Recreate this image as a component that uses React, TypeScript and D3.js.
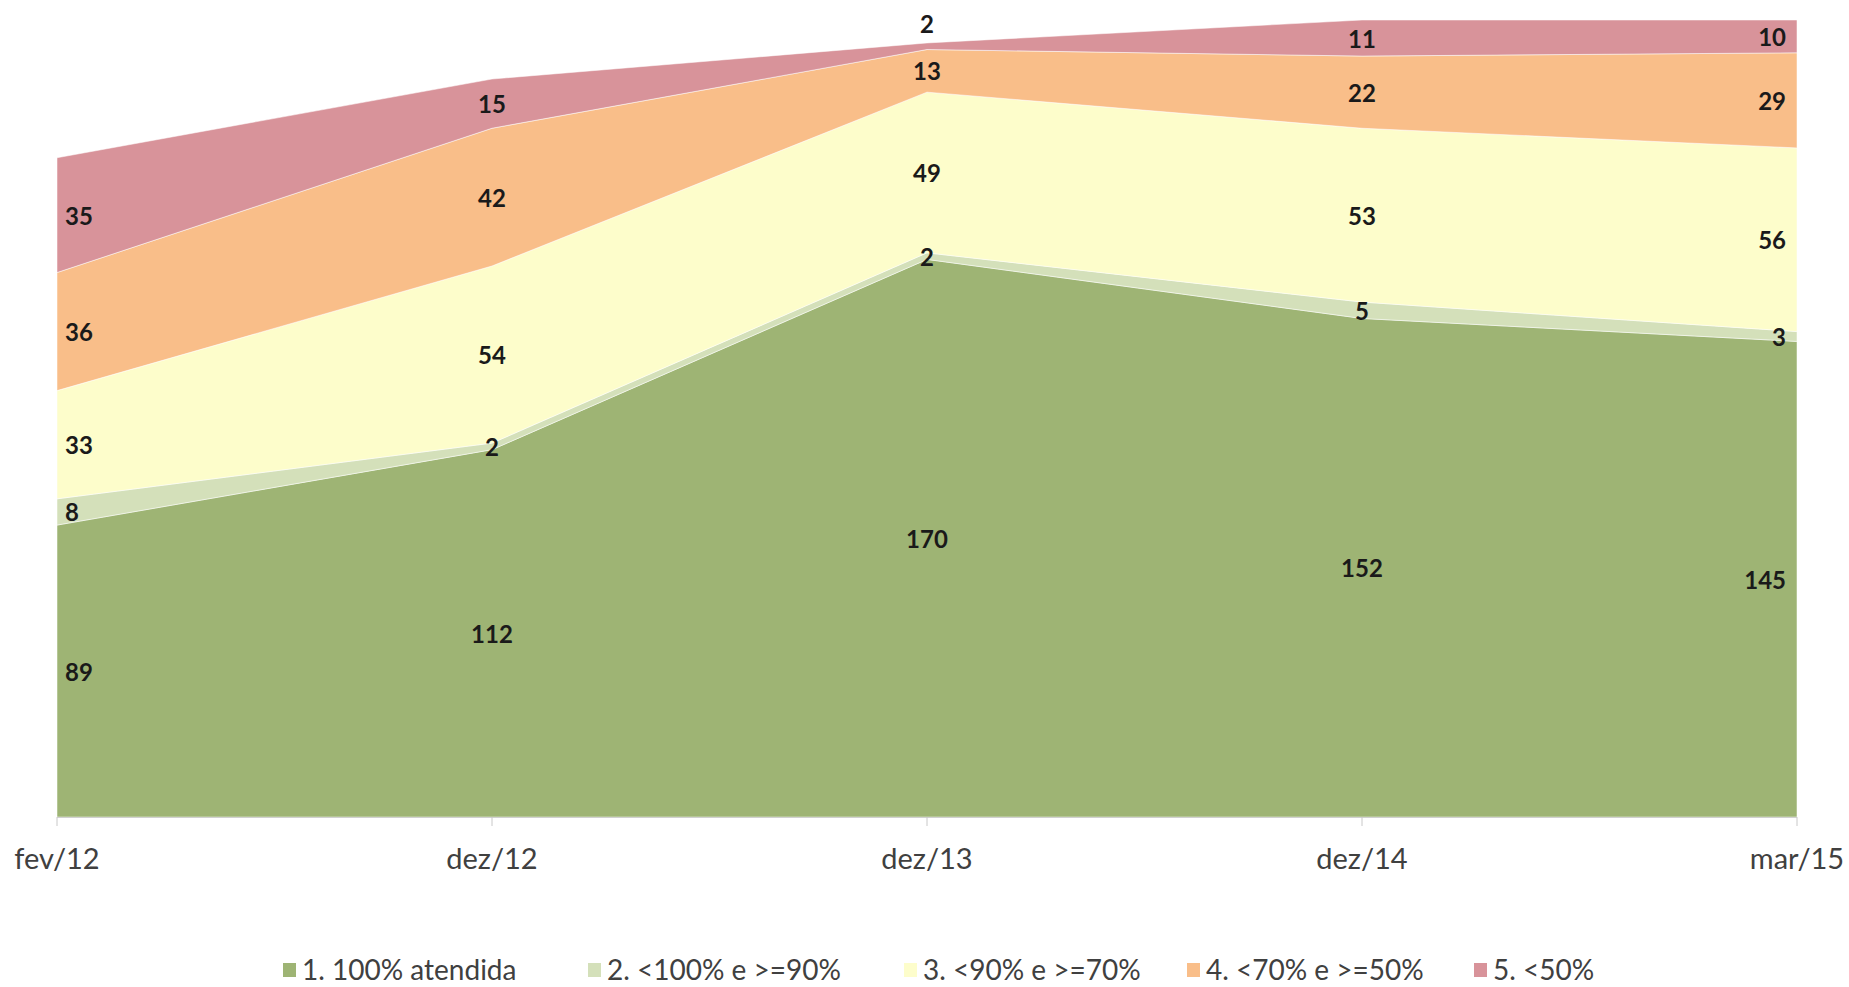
import React from "react";
import * as d3 from "d3";

const categories = ["fev/12", "dez/12", "dez/13", "dez/14", "mar/15"];
const seriesNames = [
  "1. 100% atendida",
  "2. <100% e >=90%",
  "3. <90% e >=70%",
  "4. <70% e >=50%",
  "5. <50%",
];
const s1 = [89, 112, 170, 152, 145];
const s2 = [8, 2, 2, 5, 3];
const s3 = [33, 54, 49, 53, 56];
const s4 = [36, 42, 13, 22, 29];
const s5 = [35, 15, 2, 11, 10];
const seriesValues = [s1, s2, s3, s4, s5];
const colors = ["#9EB474", "#D4E0BA", "#FDFDCB", "#F9BE89", "#D8939A"];

const W = 1849;
const H = 987;
const x0 = 57;
const x1 = 1797;
const yBase = 817;
const yTop = 20;
const FONT = "Lato, 'Open Sans', sans-serif";

export default function App() {
  const rows = categories.map((c, i) => {
    const r: any = { cat: c };
    seriesNames.forEach((n, k) => (r[n] = seriesValues[k][i]));
    return r;
  });
  const stack = d3.stack<any>().keys(seriesNames)(rows);
  const totals = categories.map((_, i) => d3.sum(seriesValues, (s) => s[i]));
  const x = d3.scalePoint<string>().domain(categories).range([x0, x1]);
  const y = d3.scaleLinear().domain([0, d3.max(totals) as number]).range([yBase, yTop]);
  const area = d3
    .area<any>()
    .x((d) => x(d.data.cat) as number)
    .y0((d) => y(d[0]))
    .y1((d) => y(d[1]));

  const legendSquareX = [283, 588, 904, 1187, 1474];
  const last = categories.length - 1;

  return (
    <svg
      width={W}
      height={H}
      style={{ position: "absolute", left: 0, top: 0, display: "block", background: "#fff" }}
      fontFamily={FONT}
    >
      {stack.map((layer, k) => (
        <path key={k} d={area(layer) as string} fill={colors[k]} stroke="#ffffff" strokeOpacity={0.5} strokeWidth={1} />
      ))}
      {/* axis */}
      <line x1={x0} x2={x1} y1={yBase + 0.5} y2={yBase + 0.5} stroke="#d0d0d0" strokeWidth={1} />
      {categories.map((c) => (
        <line key={c} x1={x(c)} x2={x(c)} y1={yBase} y2={yBase + 9} stroke="#c8c8c8" strokeWidth={1} />
      ))}
      {categories.map((c) => (
        <text key={c} x={x(c)} y={857} textAnchor="middle" dominantBaseline="central" fontSize={29} fill="#404040">
          {c}
        </text>
      ))}
      {/* data labels */}
      {stack.map((layer, k) =>
        layer.map((d, i) => {
          const px = x(d.data.cat) as number;
          const yt = y(d[1]);
          const yb = y(d[0]);
          let cy = (yt + yb) / 2;
          if (k === stack.length - 1 && yb - yt < 14) cy = yt - 19;
          const anchor = i === 0 ? "start" : i === last ? "end" : "middle";
          const tx = i === 0 ? px + 8 : i === last ? px - 11 : px;
          return (
            <text
              key={k + "-" + i}
              x={tx}
              y={cy}
              textAnchor={anchor}
              dominantBaseline="central"
              fontSize={24}
              fontWeight="bold"
              fill="#1a1a1a"
            >
              {seriesValues[k][i]}
            </text>
          );
        })
      )}
      {/* legend */}
      {seriesNames.map((n, k) => (
        <g key={n}>
          <rect x={legendSquareX[k]} y={963} width={13} height={14} fill={colors[k]} />
          <text x={legendSquareX[k] + 19} y={969} dominantBaseline="central" fontSize={28} fill="#404040">
            {n}
          </text>
        </g>
      ))}
    </svg>
  );
}
